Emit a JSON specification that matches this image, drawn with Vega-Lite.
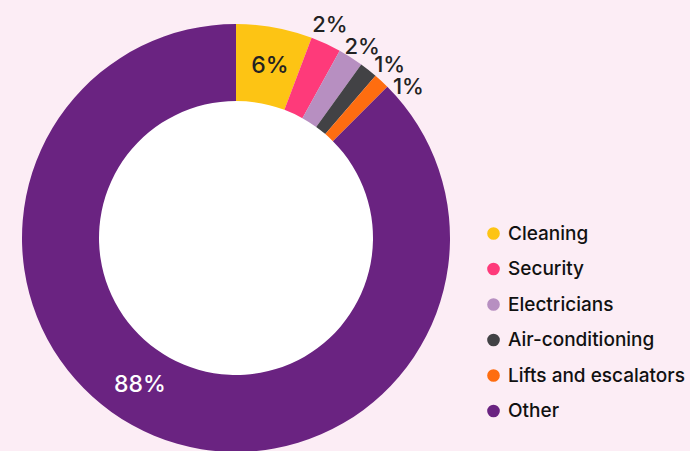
{
  "$schema": "https://vega.github.io/schema/vega-lite/v6.json",
  "autosize": {"type": "none"},
  "width": 472,
  "height": 426,
  "padding": {"left": 0, "top": 25, "right": 218, "bottom": 0},
  "background": "#fcedf5",
  "config": {"view": {"stroke": null}},
  "data": {
    "values": [
      {"category": "Cleaning", "value": 5.75, "label": "6%", "order": 1},
      {"category": "Security", "value": 2.3, "label": "2%", "order": 2},
      {"category": "Electricians", "value": 1.9, "label": "2%", "order": 3},
      {"category": "Air-conditioning", "value": 1.35, "label": "1%", "order": 4},
      {"category": "Lifts and escalators", "value": 1.2, "label": "1%", "order": 5},
      {"category": "Other", "value": 87.5, "label": "88%", "order": 6}
    ]
  },
  "encoding": {
    "theta": {"field": "value", "type": "quantitative", "stack": true},
    "order": {"field": "order", "type": "quantitative"}
  },
  "resolve": {"scale": {"theta": "independent"}},
  "layer": [
    {
      "data": {"values": [{"value": 1, "order": 1}]},
      "mark": {"type": "arc", "innerRadius": 0, "outerRadius": 138, "color": "#ffffff"},
      "encoding": {}
    },
    {
      "mark": {"type": "arc", "innerRadius": 137, "outerRadius": 214},
      "encoding": {
        "color": {
          "field": "category",
          "type": "nominal",
          "sort": ["Cleaning", "Security", "Electricians", "Air-conditioning", "Lifts and escalators", "Other"],
          "scale": {
            "domain": ["Cleaning", "Security", "Electricians", "Air-conditioning", "Lifts and escalators", "Other"],
            "range": ["#fdc414", "#fe3a7a", "#b78fc1", "#424245", "#fe6d10", "#6a2381"]
          },
          "legend": {
            "orient": "none",
            "legendX": 484,
            "legendY": 199,
            "title": null,
            "symbolType": "circle",
            "symbolSize": 160,
            "symbolStrokeWidth": 0,
            "labelFont": "Inter",
            "labelFontSize": 19,
            "labelFontWeight": 500,
            "labelColor": "#111111",
            "labelOffset": 5,
            "rowPadding": 15.5,
            "padding": 0,
            "labelLimit": 300
          }
        }
      }
    },
    {
      "mark": {"type": "text", "radius": 175, "thetaOffset": 0.015, "font": "Inter", "fontSize": 23, "fontWeight": 500, "align": "center", "baseline": "middle", "color": "#222222"},
      "encoding": {"text": {"condition": {"test": "datum.category === 'Cleaning'", "field": "label"}, "value": ""}}
    },
    {
      "mark": {"type": "text", "radius": 176, "thetaOffset": 0.185, "font": "Inter", "fontSize": 23, "fontWeight": 500, "align": "center", "baseline": "middle", "color": "#ffffff"},
      "encoding": {"text": {"condition": {"test": "datum.category === 'Other'", "field": "label"}, "value": ""}}
    },
    {
      "mark": {"type": "text", "radius": 233, "thetaOffset": -0.019, "font": "Inter", "fontSize": 22, "fontWeight": 500, "align": "center", "baseline": "middle", "color": "#222222"},
      "encoding": {"text": {"condition": {"test": "datum.category === 'Security'", "field": "label"}, "value": ""}}
    },
    {
      "mark": {"type": "text", "radius": 229, "thetaOffset": 0.018, "font": "Inter", "fontSize": 22, "fontWeight": 500, "align": "center", "baseline": "middle", "color": "#222222"},
      "encoding": {"text": {"condition": {"test": "datum.category === 'Electricians'", "field": "label"}, "value": ""}}
    },
    {
      "mark": {"type": "text", "radius": 231, "thetaOffset": 0.06, "font": "Inter", "fontSize": 22, "fontWeight": 500, "align": "center", "baseline": "middle", "color": "#222222"},
      "encoding": {"text": {"condition": {"test": "datum.category === 'Air-conditioning'", "field": "label"}, "value": ""}}
    },
    {
      "mark": {"type": "text", "radius": 229, "thetaOffset": 0.105, "font": "Inter", "fontSize": 22, "fontWeight": 500, "align": "center", "baseline": "middle", "color": "#222222"},
      "encoding": {"text": {"condition": {"test": "datum.category === 'Lifts and escalators'", "field": "label"}, "value": ""}}
    }
  ]
}
